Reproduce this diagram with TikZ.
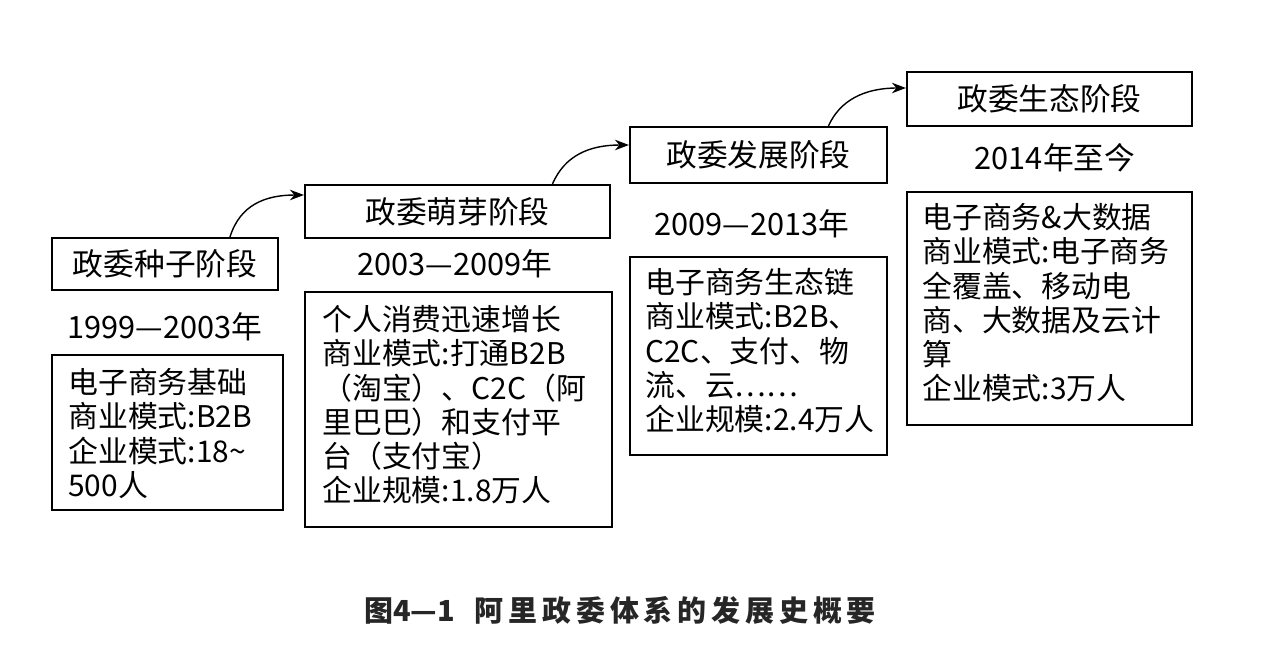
\documentclass[tikz,border=0pt]{standalone}
\usepackage{fontspec}
\setmainfont{Noto Sans CJK SC}
\usetikzlibrary{arrows.meta}
\begin{document}
\begin{tikzpicture}[x=0.02cm,y=-0.02cm,
  box/.style={draw,line width=1.2pt,rectangle,inner sep=0pt},
  title/.style={font=\fontsize{17.5}{19}\selectfont},
  body/.style={anchor=north west,align=left,inner sep=0pt,font=\fontsize{17}{19.5}\selectfont},
  conn/.style={-{Stealth[length=8pt,width=6pt]},line width=0.8pt}]
\useasboundingbox (0,0) rectangle (1262,646);
% stage title boxes
\node[box,minimum width=226*0.02cm,minimum height=52*0.02cm] (t1) at (165,264) {};
\node[title] at (t1) {政委种子阶段};
\node[box,minimum width=305*0.02cm,minimum height=53*0.02cm] (t2) at (457.5,211.5) {};
\node[title] at (t2) {政委萌芽阶段};
\node[box,minimum width=257*0.02cm,minimum height=56*0.02cm] (t3) at (758.5,155) {};
\node[title] at (t3) {政委发展阶段};
\node[box,minimum width=285*0.02cm,minimum height=54*0.02cm] (t4) at (1049.5,99) {};
\node[title] at (t4) {政委生态阶段};
% years
\node[title] (y1) at (165,327) {1999—2003年};
\node[title] (y2) at (455,264) {2003—2009年};
\node[title] (y3) at (752,224) {2009—2013年};
\node[title] (y4) at (1055,158) {2014年至今};
% content boxes
\node[box,minimum width=231*0.02cm,minimum height=155*0.02cm] (c1) at (167.5,432.5) {};
\node[body] at (68,368) {电子商务基础\\商业模式:B2B\\企业模式:18\textasciitilde\\500人};
\node[box,minimum width=307*0.02cm,minimum height=235*0.02cm] (c2) at (458.5,409.5) {};
\node[body] at (322,305) {个人消费迅速增长\\商业模式:打通B2B\\（淘宝）、C2C（阿\\里巴巴）和支付平\\台（支付宝）\\企业规模:1.8万人};
\node[box,minimum width=257*0.02cm,minimum height=198*0.02cm] (c3) at (758.5,356) {};
\node[body] at (645,268) {电子商务生态链\\商业模式:B2B、\\C2C、支付、物\\流、云……\\企业规模:2.4万人};
\node[box,minimum width=285*0.02cm,minimum height=233*0.02cm] (c4) at (1049.5,308.5) {};
\node[body] at (922,203) {电子商务\&大数据\\商业模式:电子商务\\全覆盖、移动电\\商、大数据及云计\\算\\企业模式:3万人};
% connectors
\coordinate (a1) at ([xshift=1.3cm]t1.north);
\draw[conn] (a1) .. controls (240,205) and (265,195) .. (t2.west|-0,195);
\coordinate (a2) at ([xshift=1.9cm]t2.north);
\draw[conn] (a2) .. controls (565,155) and (590,145) .. (t3.west|-0,145);
\coordinate (a3) at ([xshift=1.4cm]t3.north);
\draw[conn] (a3) .. controls (840,100) and (865,88) .. (t4.west|-0,88);
% caption
\node[font=\bfseries\fontsize{16.5}{18}\selectfont,text=black!85] (cap) at (620,610) {图4—1\ \ \ 阿\,里\,政\,委\,体\,系\,的\,发\,展\,史\,概\,要};
\end{tikzpicture}
\end{document}
